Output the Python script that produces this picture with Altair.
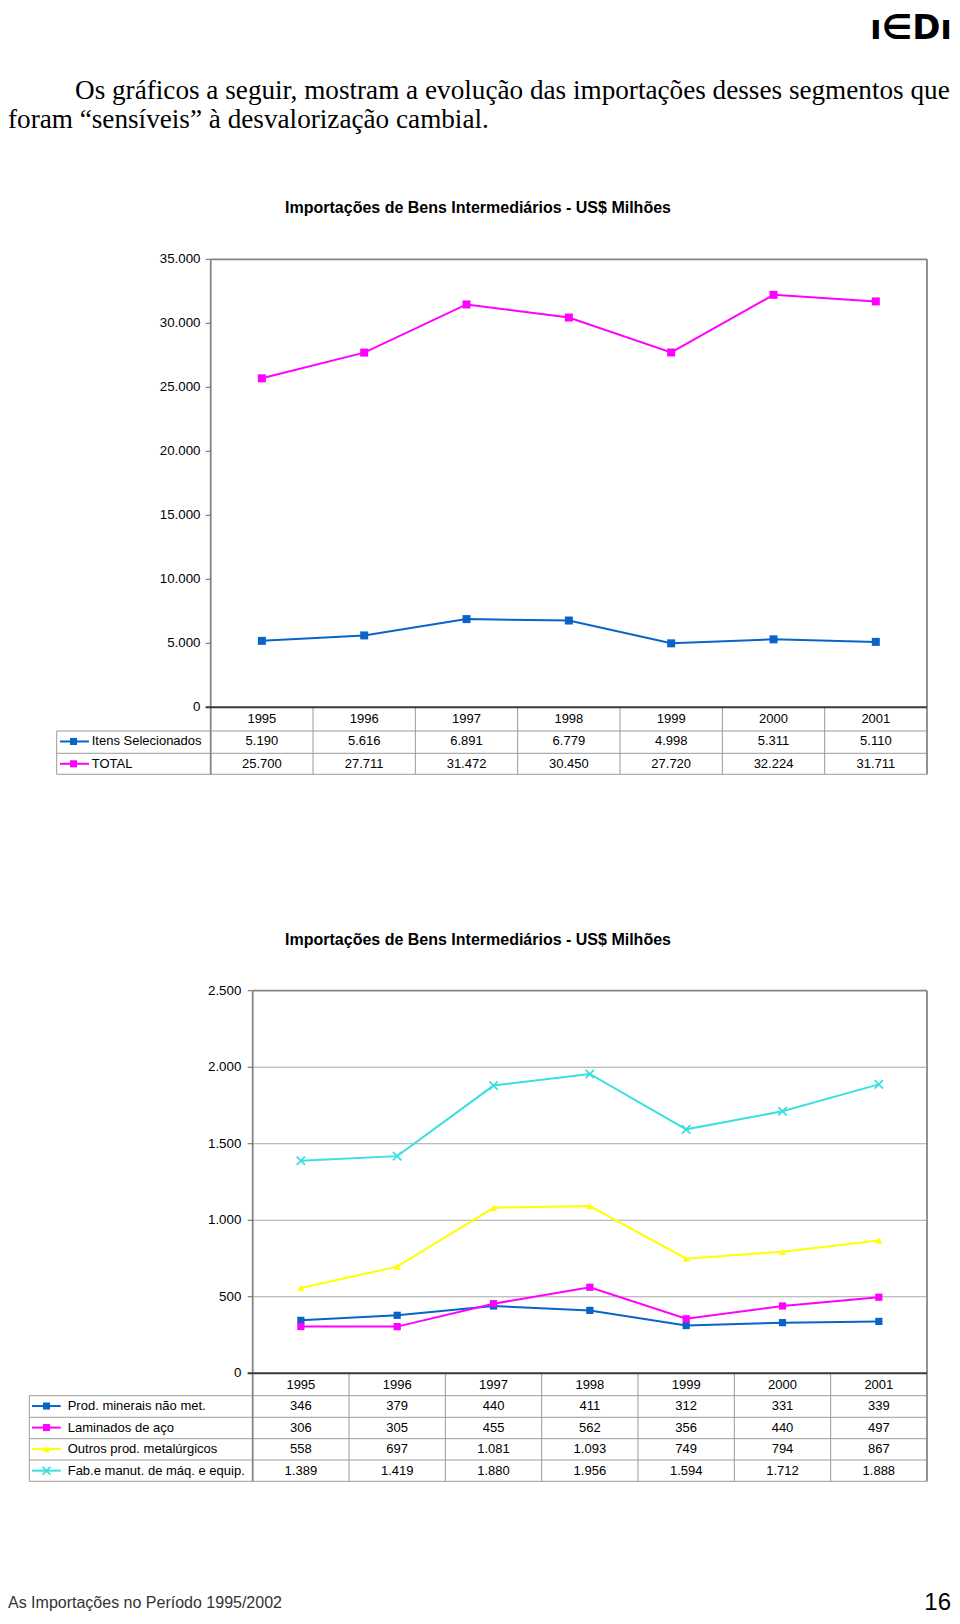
import altair as alt
import pandas as pd

# ---------------- data ----------------
YEARS = ["1995", "1996", "1997", "1998", "1999", "2000", "2001"]

S1_NAMES = ["Itens Selecionados", "TOTAL"]
S1_ITENS = [5190, 5616, 6891, 6779, 4998, 5311, 5110]
S1_TOTAL = [25700, 27711, 31472, 30450, 27720, 32224, 31711]
Y1_TICKS = [0, 5000, 10000, 15000, 20000, 25000, 30000, 35000]
Y1_LABELS = ["0", "5.000", "10.000", "15.000", "20.000", "25.000", "30.000", "35.000"]

S2_NAMES = ["Prod. minerais não met.", "Laminados de aço",
            "Outros prod. metalúrgicos", "Fab.e manut. de máq. e equip."]
S2_PROD = [346, 379, 440, 411, 312, 331, 339]
S2_LAMIN = [306, 305, 455, 562, 356, 440, 497]
S2_OUTROS = [558, 697, 1081, 1093, 749, 794, 867]
S2_FAB = [1389, 1419, 1880, 1956, 1594, 1712, 1888]
Y2_TICKS = [0, 500, 1000, 1500, 2000, 2500]
Y2_LABELS = ["0", "500", "1.000", "1.500", "2.000", "2.500"]

TITLE = "Importações de Bens Intermediários - US$ Milhões"
PARA1 = "Os gráficos a seguir, mostram a evolução das importações desses segmentos que"
PARA2 = "foram “sensíveis” à desvalorização cambial."
FOOTER = "As Importações no Período 1995/2002"
PAGE_NO = "16"
LOGO = "ı∈Dı"

# ---------------- styles / layout ----------------
BLUE = "#0A64C8"
MAGENTA = "#FF00FF"
YELLOW = "#FFFF00"
CYAN = "#3CDFDF"
XPATH = "M-1,-1L1,1M-1,1L1,-1"
SANS = "Liberation Sans, Arial, sans-serif"
SERIF = "Liberation Serif, Times New Roman, serif"
OFF = 8  # page margin


def cx(v):
    return v - OFF


def fmt(v):
    return f"{v:,}".replace(",", ".")


def section(names, values, colors, shapes, yticks, ylabels, ymax, g, grid):
    layers = []
    L, R, T, B = g["L"], g["R"], g["T"], g["B"]
    rows = g["rows"]
    centers = [(a + b) / 2 for a, b in zip(rows[:-1], rows[1:])]
    hdr = "__hdr"

    long = pd.DataFrame([
        {"serie": n, "year": y, "value": v, "label": fmt(v)}
        for n, vals in zip(names, values) for y, v in zip(YEARS, vals)
    ])
    xs = alt.Scale(type="point", domain=YEARS, range=[cx(L), cx(R)], padding=0.5)
    ys = alt.Scale(domain=[0, ymax], range=[cx(B), cx(T)], nice=False, zero=True)
    rs = alt.Scale(type="point", domain=[hdr] + names,
                   range=[cx(centers[0]), cx(centers[-1])], padding=0)
    cs = alt.Scale(domain=names, range=colors)
    ss = alt.Scale(domain=names, range=shapes)
    X = alt.X("year:N", scale=xs, axis=None)
    Y = alt.Y("value:Q", scale=ys, axis=None)
    C = alt.Color("serie:N", scale=cs, legend=None)

    ticks = pd.DataFrame({"tick": yticks, "label": ylabels})

    # gridlines
    if grid:
        layers.append(alt.Chart(ticks[(ticks.tick > 0) & (ticks.tick < ymax)]).mark_rule(
            color="#A8A8A8", strokeWidth=1).encode(
            y=alt.Y("tick:Q", scale=ys, axis=None),
            x=alt.value(cx(L)), x2=alt.value(cx(R))))

    # table lines
    colw = (R - L) / len(YEARS)
    segs = []
    for yy in rows[1:]:
        segs.append({"x": cx(g["tleft"]), "x2": cx(R), "y": cx(yy), "y2": cx(yy)})
    segs.append({"x": cx(g["tleft"]), "x2": cx(g["tleft"]), "y": cx(rows[1]), "y2": cx(rows[-1])})
    for k in range(1, len(YEARS)):
        segs.append({"x": cx(L + k * colw), "x2": cx(L + k * colw), "y": cx(rows[0]), "y2": cx(rows[-1])})
    layers.append(alt.Chart(pd.DataFrame(segs)).mark_rule(color="#9A9A9A", strokeWidth=1).encode(
        x=alt.X("x:Q", scale=None, axis=None), x2="x2:Q",
        y=alt.Y("y:Q", scale=None, axis=None), y2="y2:Q"))

    # frame
    frame = pd.DataFrame([
        {"x": cx(L), "x2": cx(R), "y": cx(T), "y2": cx(T)},
        {"x": cx(R), "x2": cx(R), "y": cx(T), "y2": cx(rows[-1])},
        {"x": cx(L), "x2": cx(L), "y": cx(T), "y2": cx(rows[-1])},
    ])
    layers.append(alt.Chart(frame).mark_rule(color="#858585", strokeWidth=1.8).encode(
        x=alt.X("x:Q", scale=None, axis=None), x2="x2:Q",
        y=alt.Y("y:Q", scale=None, axis=None), y2="y2:Q"))

    # ticks
    layers.append(alt.Chart(ticks).mark_rule(color="#666666", strokeWidth=1).encode(
        y=alt.Y("tick:Q", scale=ys, axis=None),
        x=alt.value(cx(L) - 5), x2=alt.value(cx(L))))
    # zero line
    layers.append(alt.Chart(ticks[ticks.tick == 0]).mark_rule(color="#3A3A3A", strokeWidth=2).encode(
        y=alt.Y("tick:Q", scale=ys, axis=None),
        x=alt.value(cx(L) - 5), x2=alt.value(cx(R))))
    # tick labels
    layers.append(alt.Chart(ticks).mark_text(
        align="right", baseline="middle", font=SANS, fontSize=13.3, color="#000000").encode(
        y=alt.Y("tick:Q", scale=ys, axis=None),
        x=alt.value(cx(g["lab_r"])), text="label:N"))

    # data lines + markers
    base = alt.Chart(long)
    layers.append(base.mark_line(strokeWidth=2).encode(x=X, y=Y, color=C, detail="serie:N"))
    filled_names = [n for n, s in zip(names, shapes) if s != XPATH]
    x_names = [n for n, s in zip(names, shapes) if s == XPATH]
    layers.append(base.transform_filter(alt.FieldOneOfPredicate(field="serie", oneOf=filled_names))
                  .mark_point(filled=True, opacity=1, size=g["msize"])
                  .encode(x=X, y=Y, color=C, shape=alt.Shape("serie:N", scale=ss, legend=None)))
    if x_names:
        layers.append(base.transform_filter(alt.FieldOneOfPredicate(field="serie", oneOf=x_names))
                      .mark_point(shape=XPATH, filled=False, opacity=1, size=70, strokeWidth=1.8)
                      .encode(x=X, y=Y, color=C))

    # table text
    tab = pd.concat([
        pd.DataFrame({"row": hdr, "year": YEARS, "label": YEARS}),
        long.rename(columns={"serie": "row"})[["row", "year", "label"]],
    ])
    layers.append(alt.Chart(tab).mark_text(
        align="center", baseline="middle", font=SANS, fontSize=13, color="#000000").encode(
        x=X, y=alt.Y("row:N", scale=rs, axis=None), text="label:N"))

    # legend column inside table
    leg = pd.DataFrame({"serie": names})
    RY = alt.Y("serie:N", scale=rs, axis=None)
    layers.append(alt.Chart(leg).mark_rule(strokeWidth=2).encode(
        y=RY, x=alt.value(cx(g["leg0"])), x2=alt.value(cx(g["leg1"])), color=C))
    legf = leg[leg.serie.isin(filled_names)]
    layers.append(alt.Chart(legf).mark_point(filled=True, opacity=1, size=50).encode(
        y=RY, x=alt.value(cx(g["legm"])), color=C,
        shape=alt.Shape("serie:N", scale=ss, legend=None)))
    if x_names:
        layers.append(alt.Chart(leg[leg.serie.isin(x_names)]).mark_point(
            shape=XPATH, filled=False, opacity=1, size=60, strokeWidth=1.8).encode(
            y=RY, x=alt.value(cx(g["legm"])), color=C))
    layers.append(alt.Chart(leg).mark_text(
        align="left", baseline="middle", font=SANS, fontSize=13, color="#000000").encode(
        y=RY, x=alt.value(cx(g["legt"])), text="serie:N"))

    # title
    layers.append(alt.Chart(pd.DataFrame({"t": [TITLE]})).mark_text(
        align="center", baseline="middle", font=SANS, fontSize=16, fontWeight="bold",
        color="#000000").encode(x=alt.value(cx(478)), y=alt.value(cx(g["title_y"])), text="t:N"))
    return layers


G1 = dict(L=210.7, R=927, T=259.3, B=707.3, rows=[707.3, 731, 753.3, 774.3],
          tleft=56.7, leg0=60, leg1=89, legm=73.5, legt=91.7, lab_r=200.5,
          title_y=208, msize=64)
G2 = dict(L=252.7, R=927, T=990.7, B=1373.3,
          rows=[1373.3, 1395.7, 1417.3, 1438.7, 1460, 1481.3],
          tleft=29.3, leg0=32, leg1=60.7, legm=46.5, legt=67.7, lab_r=241.3,
          title_y=940, msize=52)

layers = []
layers += section(S1_NAMES, [S1_ITENS, S1_TOTAL], [BLUE, MAGENTA], ["square", "square"],
                  Y1_TICKS, Y1_LABELS, 35000, G1, grid=False)
layers += section(S2_NAMES, [S2_PROD, S2_LAMIN, S2_OUTROS, S2_FAB],
                  [BLUE, MAGENTA, YELLOW, CYAN], ["square", "square", "triangle-up", XPATH],
                  Y2_TICKS, Y2_LABELS, 2500, G2, grid=True)


def txt(s, x, y, **kw):
    return alt.Chart(pd.DataFrame({"t": [s]})).mark_text(**kw).encode(
        x=alt.value(x), y=alt.value(y), text="t:N")


layers.append(txt(PARA1, cx(75), cx(99), align="left", baseline="alphabetic",
                  font=SERIF, fontSize=27.2, color="#000000"))
layers.append(txt(PARA2, 0, cx(128), align="left", baseline="alphabetic",
                  font=SERIF, fontSize=27.2, color="#000000"))
layers.append(txt(LOGO, cx(911), 31, align="center", baseline="alphabetic",
                  font="DejaVu Sans", fontSize=34, fontWeight="bold", color="#000000"))
layers.append(txt(FOOTER, 0, 1600, align="left", baseline="alphabetic",
                  font=SANS, fontSize=16, color="#333333"))
layers.append(txt(PAGE_NO, 943, 1602, align="right", baseline="alphabetic",
                  font=SANS, fontSize=24, color="#000000"))

chart = alt.layer(*layers).resolve_scale(
    x="independent", y="independent", color="independent", shape="independent"
).properties(
    width=944, height=1606, padding=0, background="white",
    autosize=alt.AutoSizeParams(type="none"),
).configure_view(stroke=None)

chart.save("out.html", embed_options={"renderer": "svg", "actions": False})
